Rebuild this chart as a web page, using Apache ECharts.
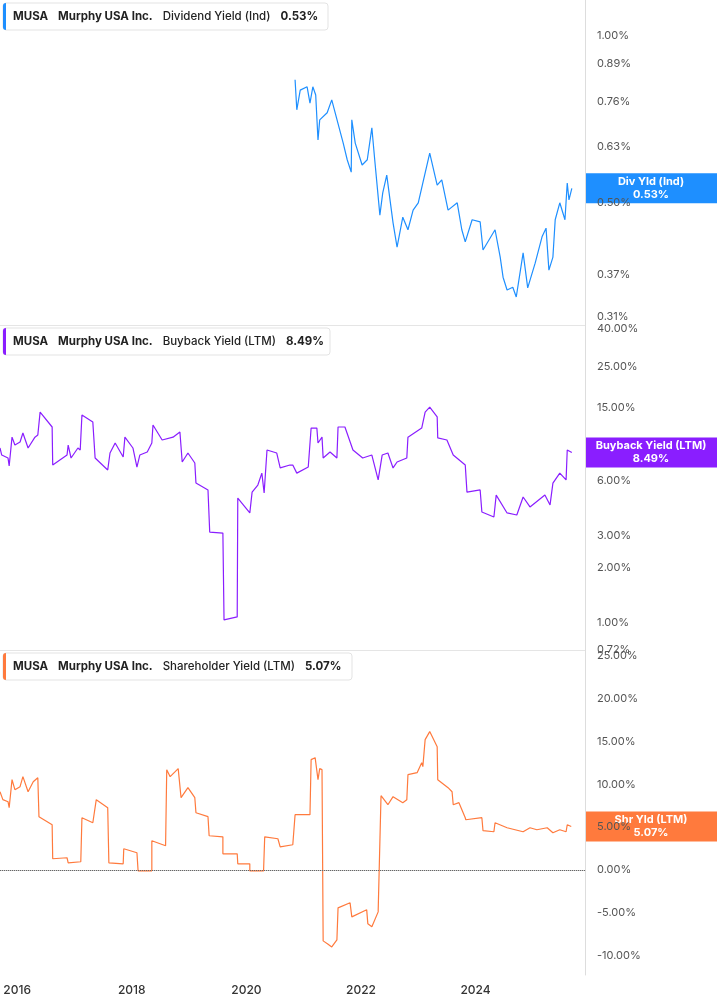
<!DOCTYPE html>
<html>
<head>
<meta charset="utf-8">
<script src="https://cdn.jsdelivr.net/npm/echarts@6/dist/echarts.min.js"></script>
<style>
  html, body { margin: 0; padding: 0; background: #fff; }
  #main { width: 717px; height: 1005px; }
</style>
</head>
<body>
<div id="main"></div>
<script>
// dividend yield (ind), %
var divYears = [20.85,20.88,20.94,21.06,21.11,21.16,21.21,21.25,21.28,21.41,21.49,21.55,21.69,21.76,21.83,21.84,21.90,22.02,22.11,22.19,22.24,22.33,22.38,22.45,22.56,22.63,22.73,22.82,22.91,23.00,23.08,23.20,23.33,23.41,23.52,23.68,23.76,23.82,23.94,24.08,24.13,24.34,24.43,24.48,24.55,24.65,24.71,24.83,24.91,25.04,25.16,25.23,25.28,25.35,25.39,25.47,25.56,25.60,25.63,25.68];
var divVals = [0.833,0.735,0.798,0.809,0.756,0.809,0.782,0.648,0.705,0.726,0.766,0.726,0.640,0.597,0.567,0.705,0.640,0.584,0.597,0.682,0.597,0.474,0.520,0.560,0.459,0.415,0.470,0.446,0.484,0.499,0.542,0.614,0.537,0.549,0.484,0.499,0.446,0.424,0.465,0.461,0.410,0.446,0.398,0.366,0.347,0.351,0.337,0.405,0.350,0.388,0.433,0.449,0.377,0.398,0.465,0.499,0.465,0.542,0.505,0.530];

// buyback yield (LTM), %
var bbYears = [15.70,15.73,15.84,15.86,15.91,15.96,16.05,16.10,16.19,16.31,16.36,16.40,16.61,16.62,16.87,16.89,16.94,17.06,17.10,17.13,17.32,17.36,17.58,17.62,17.71,17.85,17.88,18.02,18.09,18.14,18.27,18.35,18.37,18.53,18.72,18.84,18.88,18.98,19.10,19.12,19.33,19.36,19.59,19.61,19.84,19.85,20.06,20.10,20.20,20.27,20.31,20.36,20.53,20.59,20.76,20.81,20.88,21.08,21.13,21.23,21.25,21.32,21.34,21.46,21.58,21.60,21.72,21.86,22.03,22.19,22.30,22.37,22.47,22.56,22.63,22.80,22.82,23.06,23.12,23.20,23.33,23.34,23.50,23.61,23.82,23.85,24.08,24.11,24.32,24.36,24.55,24.72,24.83,24.95,25.21,25.30,25.35,25.47,25.58,25.60,25.68];
var bbVals = [8.99,8.23,7.93,7.17,10.3,9.33,9.69,10.85,8.99,10.3,10.58,14.1,11.7,7.26,8.23,9.33,7.93,8.99,8.77,13.6,12.45,7.93,6.82,8.44,9.57,8.03,10.3,8.99,7.08,8.23,8.55,9.57,12.0,9.94,10.3,10.99,7.54,8.44,7.45,5.79,5.31,3.13,3.09,1.04,1.08,4.80,3.98,5.17,5.65,6.56,5.11,8.77,8.44,7.00,7.26,7.26,6.56,7.08,11.55,11.55,9.57,10.3,7.93,8.55,7.93,11.7,11.7,8.77,7.93,8.23,6.02,8.23,8.44,7.00,7.54,7.93,10.3,11.55,14.1,15.0,13.3,10.2,9.94,8.23,7.26,5.17,5.31,4.03,3.78,4.98,3.98,3.88,4.86,4.29,4.98,4.40,5.79,6.56,6.02,8.77,8.49];

// shareholder yield (LTM), %
var shYears = [15.70,15.75,15.84,15.86,15.91,15.96,16.05,16.10,16.19,16.28,16.36,16.38,16.61,16.62,16.87,16.89,17.11,17.13,17.32,17.38,17.58,17.60,17.85,17.86,18.09,18.11,18.35,18.35,18.59,18.61,18.67,18.81,18.86,18.98,19.10,19.12,19.33,19.35,19.59,19.59,19.84,19.85,20.06,20.06,20.30,20.32,20.55,20.59,20.81,20.85,21.11,21.13,21.20,21.25,21.28,21.32,21.34,21.42,21.49,21.58,21.60,21.81,21.84,22.10,22.12,22.19,22.30,22.33,22.35,22.47,22.56,22.73,22.80,22.82,22.98,23.06,23.08,23.12,23.20,23.33,23.34,23.52,23.59,23.61,23.71,23.82,23.83,24.11,24.13,24.32,24.34,24.55,24.83,24.95,25.07,25.25,25.35,25.47,25.58,25.60,25.67];
var shVals = [9.13,8.20,7.96,7.26,10.54,9.37,9.72,10.89,9.13,10.30,10.77,6.21,5.27,1.29,1.41,0.82,0.94,6.09,5.50,8.20,7.26,0.82,0.70,2.46,1.99,-0.12,-0.12,3.40,2.81,11.71,10.89,11.83,8.43,9.60,8.43,6.67,6.21,3.98,3.86,1.87,1.87,0.70,0.70,-0.12,-0.12,3.86,3.63,2.69,2.93,6.44,6.44,12.88,13.11,10.54,11.83,11.71,-8.31,-8.67,-9.02,-8.20,-4.45,-3.86,-5.50,-4.68,-6.32,-6.67,-4.92,-5.04,8.67,7.61,8.55,7.85,8.20,11.12,11.36,12.53,12.06,15.22,16.16,14.40,10.54,9.60,9.13,7.61,7.85,6.09,5.85,6.09,4.57,4.45,5.50,4.92,4.45,4.92,4.68,4.92,4.33,4.68,4.45,5.27,5.07];

var yearTicks = [2016, 2018, 2020, 2022, 2024];
var divTicks = [1.00, 0.89, 0.76, 0.63, 0.50, 0.37, 0.31];
var bbTicks = [40, 25, 15, 6, 3, 2, 1, 0.72];
var shTicks = [25, 20, 15, 10, 5, 0, -5, -10];

var X0 = 2015.70, X1 = 2025.91;

function pairs(xs, ys, log) {
  return xs.map(function (x, i) {
    return [2000 + x, log ? Math.log10(ys[i]) : ys[i]];
  });
}
function lg(a) { return a.map(function (v) { return Math.log10(v); }); }

var chart = echarts.init(document.getElementById('main'));
var grids = [
  { left: 0, right: 132, top: 0, height: 325 },
  { left: 0, right: 132, top: 325, height: 325 },
  { left: 0, right: 132, top: 650, height: 325 }
];
var xAxes = grids.map(function (g, i) {
  return {
    type: 'value', gridIndex: i, min: X0, max: X1,
    axisLine: { show: i === 2, lineStyle: { color: '#ccc' } },
    axisTick: { show: false },
    splitLine: { show: false },
    axisLabel: i === 2 ? {
      customValues: yearTicks, formatter: function (v) { return String(Math.round(v)); },
      color: '#333', fontSize: 12, fontFamily: 'Inter', fontWeight: 500, margin: 9
    } : { show: false }
  };
});
var labelStyle = { color: '#555', fontSize: 11, fontFamily: 'Inter', margin: 12 };
var yAxes = [
  {
    type: 'value', gridIndex: 0, position: 'right', min: -0.523, max: 0.065,
    axisLine: { show: true, lineStyle: { color: '#ddd' } }, axisTick: { show: false }, splitLine: { show: false },
    axisLabel: Object.assign({ customValues: lg(divTicks), formatter: function (v) { return Math.pow(10, v).toFixed(2) + '%'; } }, labelStyle)
  },
  {
    type: 'value', gridIndex: 1, position: 'right', min: -0.147, max: 1.624,
    axisLine: { show: true, lineStyle: { color: '#ddd' } }, axisTick: { show: false }, splitLine: { show: false },
    axisLabel: Object.assign({ customValues: lg(bbTicks), formatter: function (v) { return Math.pow(10, v).toFixed(2) + '%'; } }, labelStyle)
  },
  {
    type: 'value', gridIndex: 2, position: 'right', min: -12.3, max: 25.7,
    axisLine: { show: true, lineStyle: { color: '#ddd' } }, axisTick: { show: false }, splitLine: { show: false },
    axisLabel: Object.assign({ customValues: shTicks, formatter: function (v) { return v.toFixed(2) + '%'; } }, labelStyle)
  }
];

var colors = ['#1e8fff', '#8a1eff', '#ff7a3d'];
var option = {
  animation: false,
  grid: grids,
  xAxis: xAxes,
  yAxis: yAxes,
  series: [
    { type: 'line', xAxisIndex: 0, yAxisIndex: 0, data: pairs(divYears, divVals, true), showSymbol: false, lineStyle: { color: colors[0], width: 1.2 } },
    { type: 'line', xAxisIndex: 1, yAxisIndex: 1, data: pairs(bbYears, bbVals, true), showSymbol: false, lineStyle: { color: colors[1], width: 1.2 } },
    { type: 'line', xAxisIndex: 2, yAxisIndex: 2, data: pairs(shYears, shVals, false), showSymbol: false, lineStyle: { color: colors[2], width: 1.2 },
      markLine: { silent: true, symbol: 'none', label: { show: false }, lineStyle: { type: 'dotted', color: '#666', width: 1 }, data: [{ yAxis: 0 }] } }
  ]
};
chart.setOption(option);

// panel titles and end-value tags
var titles = [
  { metric: 'Dividend Yield (Ind)', val: '0.53%', w: 325 },
  { metric: 'Buyback Yield (LTM)', val: '8.49%', w: 327 },
  { metric: 'Shareholder Yield (LTM)', val: '5.07%', w: 349 }
];
var tags = [
  { name: 'Div Yld (Ind)', val: '0.53%', y: Math.log10(0.53) },
  { name: 'Buyback Yield (LTM)', val: '8.49%', y: Math.log10(8.49) },
  { name: 'Shr Yld (LTM)', val: '5.07%', y: 5.07 }
];
var g = [];
[0, 1].forEach(function (i) {
  g.push({ type: 'rect', shape: { x: 0, y: 325 * (i + 1), width: 585, height: 0.5 }, style: { fill: '#ccc' } });
});
titles.forEach(function (t, i) {
  var top = 325 * i + 3;
  g.push({ type: 'rect', shape: { x: 3, y: top, width: t.w, height: 27, r: 3 }, style: { fill: '#fff', stroke: '#e3e3e3', lineWidth: 1 } });
  g.push({ type: 'rect', shape: { x: 3, y: top, width: 3, height: 27, r: [3, 0, 0, 3] }, style: { fill: colors[i] } });
  g.push({
    type: 'text', x: 13, y: top + 14,
    style: {
      text: '{b|MUSA}   {b|Murphy USA Inc.}   {m|' + t.metric + '}   {b|' + t.val + '}',
      verticalAlign: 'middle',
      rich: {
        b: { fontFamily: 'Inter', fontSize: 11.5, fontWeight: 700, fill: '#222' },
        m: { fontFamily: 'Inter', fontSize: 11.5, fontWeight: 500, fill: '#222' }
      }
    }
  });
});
tags.forEach(function (t, i) {
  var py = chart.convertToPixel({ yAxisIndex: i }, t.y);
  g.push({ type: 'rect', shape: { x: 585, y: py - 15, width: 132, height: 30 }, style: { fill: colors[i] } });
  g.push({
    type: 'text', x: 651, y: py,
    style: { text: t.name + '\n' + t.val, align: 'center', verticalAlign: 'middle', fill: '#fff',
      fontFamily: 'Inter', fontSize: 11, fontWeight: 700, lineHeight: 13 }
  });
});
chart.setOption({ graphic: g });
</script>
</body>
</html>
